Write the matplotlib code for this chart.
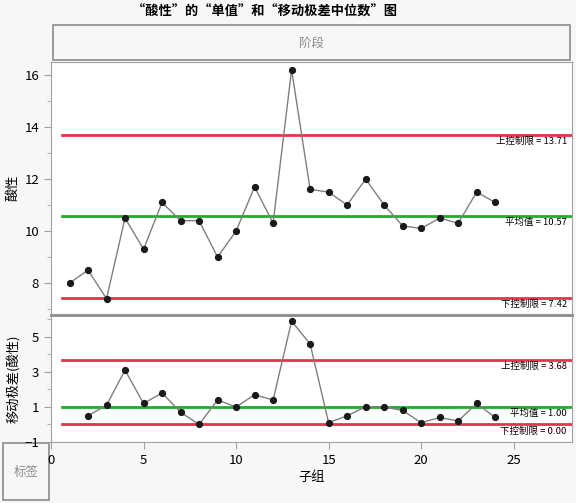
import matplotlib
matplotlib.use('Agg')
import matplotlib.pyplot as plt
from matplotlib.patches import Rectangle
from matplotlib.ticker import MultipleLocator
import matplotlib.transforms as mtransforms

plt.rcParams['font.family'] = ['Noto Sans CJK SC', 'DejaVu Sans']

# data
subgroup = list(range(1, 25))
acidity = [8.0, 8.5, 7.4, 10.5, 9.3, 11.1, 10.4, 10.4, 9.0, 10.0, 11.7, 10.3,
           16.2, 11.6, 11.5, 11.0, 12.0, 11.0, 10.2, 10.1, 10.5, 10.3, 11.5, 11.1]
mr_subgroup = list(range(2, 25))
moving_range = [0.5, 1.1, 3.1, 1.2, 1.8, 0.7, 0.0, 1.4, 1.0, 1.7, 1.4, 5.9,
                4.6, 0.1, 0.5, 1.0, 1.0, 0.8, 0.1, 0.4, 0.2, 1.2, 0.4]
ind_limits = {'ucl': 13.71, 'avg': 10.57, 'lcl': 7.42}
mr_limits = {'ucl': 3.68, 'avg': 1.00, 'lcl': 0.00}

W, H = 576, 503
BG = '#f7f7f7'
RED = '#e8334a'
GREEN = '#1fae2b'
SPINE = '#a0a0a0'

fig = plt.figure(figsize=(W / 100, H / 100), dpi=100, facecolor=BG)


def box(x0, y0, x1, y1):
    # pixel coords (top-left origin) -> figure fraction
    return [x0 / W, 1 - y1 / H, (x1 - x0) / W, (y1 - y0) / H]


ax1 = fig.add_axes(box(51, 62, 572, 313))
ax2 = fig.add_axes(box(51, 315, 572, 442), sharex=ax1)

fig.text(265 / W, 1 - 12 / H, '“酸性”的“单值”和“移动极差中位数”图',
         ha='center', va='center', fontsize=9.5, fontweight='bold')

# phase header box
fig.patches.append(Rectangle((53 / W, 1 - 60 / H), 517 / W, 35 / H,
                             transform=fig.transFigure, facecolor=BG,
                             edgecolor='#8c8c8c', linewidth=1.2, zorder=-1))
fig.text(311 / W, 1 - 43 / H, '阶段', ha='center', va='center',
         fontsize=9, color='#8c8c8c')

# label box bottom left
fig.patches.append(Rectangle((3 / W, 1 - 500 / H), 46 / W, 57 / H,
                             transform=fig.transFigure, facecolor=BG,
                             edgecolor='#8c8c8c', linewidth=1.2, zorder=-1))
fig.text(26 / W, 1 - 472 / H, '标签', ha='center', va='center',
         fontsize=9, color='#8c8c8c')

names = {'ucl': '上控制限', 'avg': '平均值', 'lcl': '下控制限'}
colors = {'ucl': RED, 'avg': GREEN, 'lcl': RED}


def draw_chart(ax, x, y, limits):
    ax.set_facecolor('white')
    for key, val in limits.items():
        ax.plot([0.6, 28.2], [val, val], color=colors[key], lw=2, zorder=2)
        trans = mtransforms.blended_transform_factory(ax.transAxes, ax.transData)
        ax.annotate(f'{names[key]} = {val:.2f}', xy=(0.99, val),
                    xycoords=trans, xytext=(0, -1.5), textcoords='offset points',
                    ha='right', va='top', fontsize=6.8, zorder=4)
    ax.plot(x, y, color='#7f7f7f', lw=1, zorder=3)
    ax.plot(x, y, 'o', color='#1a1a1a', markersize=4.2, zorder=4)
    for s in ax.spines.values():
        s.set_color(SPINE)
    ax.tick_params(axis='y', which='major', length=5, color=SPINE, labelsize=9.5)
    ax.tick_params(axis='y', which='minor', length=3, color=SPINE)
    ax.yaxis.set_label_coords(-0.06, 0.5)


draw_chart(ax1, subgroup, acidity, ind_limits)
draw_chart(ax2, mr_subgroup, moving_range, mr_limits)

ax1.set_xlim(0.05, 28.15)
ax1.set_ylim(6.85, 16.5)
ax1.yaxis.set_major_locator(MultipleLocator(2))
ax1.yaxis.set_minor_locator(MultipleLocator(1))
ax1.tick_params(axis='x', which='both', bottom=False, labelbottom=False)
ax1.spines['bottom'].set_visible(False)
ax1.set_ylabel('酸性', fontsize=9.5)

ax2.set_ylim(-1, 6.25)
ax2.set_yticks([-1, 1, 3, 5])
ax2.set_yticks([0, 2, 4, 6], minor=True)
ax2.set_xticks([0, 5, 10, 15, 20, 25])
ax2.tick_params(axis='x', length=5, color=SPINE, labelsize=9.5)
ax2.spines['top'].set_color('#8c8c8c')
ax2.spines['top'].set_linewidth(2)
ax2.set_ylabel('移动极差(酸性)', fontsize=9.5)
ax2.set_xlabel('子组', fontsize=9.5, labelpad=3)

fig.savefig('out.png', dpi=100, facecolor=BG)
